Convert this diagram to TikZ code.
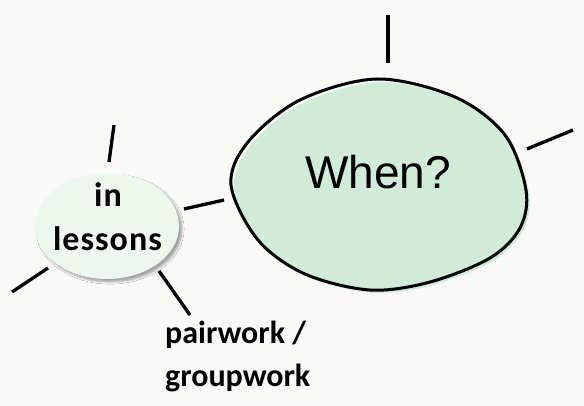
\documentclass[tikz,border=0pt]{standalone}
\usepackage{fontspec}
\setmainfont{Liberation Sans}
\newfontfamily\calib{Carlito}
\newfontfamily\calibsp[LetterSpace=3]{Carlito}
\usetikzlibrary{shapes.geometric,shadows.blur}
\definecolor{bg}{HTML}{F9F9F7}
\definecolor{blobgreen}{HTML}{D0EBD7}
\definecolor{palegreen}{HTML}{EEF7EE}
\begin{document}
\begin{tikzpicture}[x=1pt,y=-1pt,
  spoke/.style={line width=3.3pt, line cap=butt},
  outline/.style={line width=3pt, line join=round},
  lbl/.style={inner sep=0pt, anchor=base, text=black, font=\calibsp\bfseries\fontsize{34}{40}\selectfont},
  sidelbl/.style={inner sep=0pt, anchor=base west, text=black, font=\calib\bfseries\fontsize{32}{38}\selectfont}]
\fill[bg] (0,0) rectangle (584,406);
\useasboundingbox (0,0) rectangle (584,406);
% main blob
\fill[blobgreen, shift={(3,3)}] plot[smooth cycle, tension=0.55] coordinates {(377,79) (455,97) (505,135) (526,190) (520,228) (490,258) (430,282) (370,290) (305,274) (258,240) (231,185) (248,142) (300,100)};
\draw[outline] plot[smooth cycle, tension=0.55] coordinates {(377,79) (455,97) (505,135) (526,190) (520,228) (490,258) (430,282) (370,290) (305,274) (258,240) (231,185) (248,142) (300,100)};
\node[inner sep=0pt, text=black] (when) at (378,172) {\fontsize{46}{52}\selectfont When?};
% small ellipse
\node[ellipse, fill=palegreen, minimum width=144pt, minimum height=106pt, inner sep=0pt,
  blur shadow={shadow xshift=3pt, shadow yshift=-3pt, shadow blur steps=6, shadow opacity=35}] (lessons) at (107,226) {};
\node[lbl] (in) at (108,207) {in};
\node[lbl] (lessonsT) at (107.5,251) {lessons};
\node[sidelbl] (pair) at (165,343) {pairwork /};
\node[sidelbl] (group) at (165,386) {groupwork};
% spokes
\coordinate (t1) at (388,15); \coordinate (t2) at (388,63);
\coordinate (r1) at (527,149); \coordinate (r2) at (573,130);
\coordinate (k1) at (184,209); \coordinate (k2) at (224,200);
\coordinate (s1) at (109,162); \coordinate (s2) at (114,125);
\coordinate (b1) at (12,292); \coordinate (b2) at (48,268);
\coordinate (c1) at (159,271); \coordinate (c2) at (190,315);
\draw[spoke] (t1) -- (t2);
\draw[spoke] (r1) -- (r2);
\draw[spoke] (k1) -- (k2);
\draw[spoke] (s1) -- (s2);
\draw[spoke] (b1) -- (b2);
\draw[spoke] (c1) -- (c2);
\end{tikzpicture}
\end{document}
